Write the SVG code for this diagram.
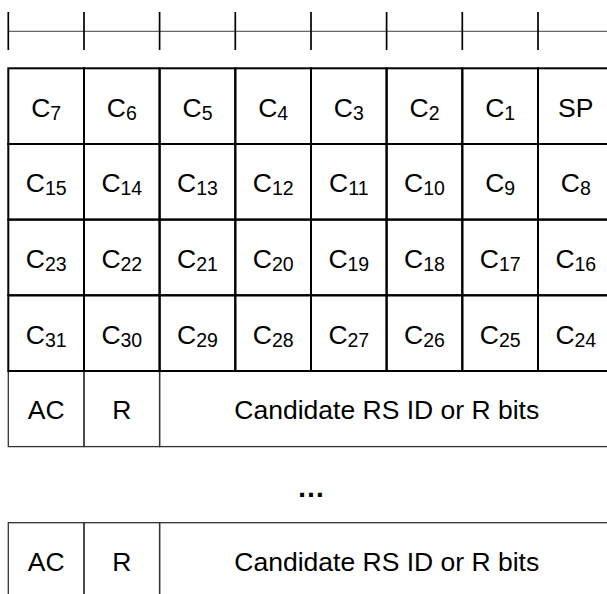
<svg xmlns="http://www.w3.org/2000/svg" width="607" height="594" viewBox="0 0 607 594">
<style>
.bg{fill:#ffffff}
.cell{fill:none;stroke:#000;stroke-width:2}
.fld{fill:none;stroke:#333;stroke-width:1.3}
.t{font-family:"Liberation Sans",Arial,sans-serif;font-size:26.5px;fill:#000;text-anchor:middle}
.sub{font-size:19.5px}
.tick{stroke:#000;stroke-width:1.7}
.axis{stroke:#666;stroke-width:1.3}
</style>
<rect class="bg" x="0" y="0" width="607" height="594"/>
<g id="ruler">
<line class="axis" x1="8.3" y1="31.3" x2="607" y2="31.3"/>
<line class="tick" x1="8.3" y1="12" x2="8.3" y2="50"/>
<line class="tick" x1="84" y1="12" x2="84" y2="50"/>
<line class="tick" x1="159.6" y1="12" x2="159.6" y2="50"/>
<line class="tick" x1="235.3" y1="12" x2="235.3" y2="50"/>
<line class="tick" x1="311" y1="12" x2="311" y2="50"/>
<line class="tick" x1="386.6" y1="12" x2="386.6" y2="50"/>
<line class="tick" x1="462.3" y1="12" x2="462.3" y2="50"/>
<line class="tick" x1="538" y1="12" x2="538" y2="50"/>
</g>
<g id="field1">
<g id="f1-ac"><rect class="fld" x="8.3" y="371" width="75.7" height="75.6"/><text class="t" x="46.2" y="419.1">AC</text></g>
<g id="f1-r"><rect class="fld" x="84" y="371" width="75.6" height="75.6"/><text class="t" x="121.8" y="419.1">R</text></g>
<g id="f1-id"><rect class="fld" x="159.6" y="371" width="454" height="75.6"/><text class="t" x="386.8" y="419.1">Candidate RS ID or R bits</text></g>
</g>
<g id="grid">
<g id="c7"><rect class="cell" x="8.3" y="68.3" width="75.7" height="75.7"/><text class="t" x="46.2" y="116.5">C<tspan class="sub" dy="3">7</tspan></text></g>
<g id="c6"><rect class="cell" x="84" y="68.3" width="75.6" height="75.7"/><text class="t" x="121.8" y="116.5">C<tspan class="sub" dy="3">6</tspan></text></g>
<g id="c5"><rect class="cell" x="159.6" y="68.3" width="75.7" height="75.7"/><text class="t" x="197.5" y="116.5">C<tspan class="sub" dy="3">5</tspan></text></g>
<g id="c4"><rect class="cell" x="235.3" y="68.3" width="75.7" height="75.7"/><text class="t" x="273.2" y="116.5">C<tspan class="sub" dy="3">4</tspan></text></g>
<g id="c3"><rect class="cell" x="311" y="68.3" width="75.6" height="75.7"/><text class="t" x="348.8" y="116.5">C<tspan class="sub" dy="3">3</tspan></text></g>
<g id="c2"><rect class="cell" x="386.6" y="68.3" width="75.7" height="75.7"/><text class="t" x="424.5" y="116.5">C<tspan class="sub" dy="3">2</tspan></text></g>
<g id="c1"><rect class="cell" x="462.3" y="68.3" width="75.7" height="75.7"/><text class="t" x="500.2" y="116.5">C<tspan class="sub" dy="3">1</tspan></text></g>
<g id="sp"><rect class="cell" x="538" y="68.3" width="75.6" height="75.7"/><text class="t" x="575.8" y="116.5">SP</text></g>

<g id="c15"><rect class="cell" x="8.3" y="144" width="75.7" height="75.6"/><text class="t" x="46.2" y="192.1">C<tspan class="sub" dy="3">15</tspan></text></g>
<g id="c14"><rect class="cell" x="84" y="144" width="75.6" height="75.6"/><text class="t" x="121.8" y="192.1">C<tspan class="sub" dy="3">14</tspan></text></g>
<g id="c13"><rect class="cell" x="159.6" y="144" width="75.7" height="75.6"/><text class="t" x="197.5" y="192.1">C<tspan class="sub" dy="3">13</tspan></text></g>
<g id="c12"><rect class="cell" x="235.3" y="144" width="75.7" height="75.6"/><text class="t" x="273.2" y="192.1">C<tspan class="sub" dy="3">12</tspan></text></g>
<g id="c11"><rect class="cell" x="311" y="144" width="75.6" height="75.6"/><text class="t" x="348.8" y="192.1">C<tspan class="sub" dy="3">11</tspan></text></g>
<g id="c10"><rect class="cell" x="386.6" y="144" width="75.7" height="75.6"/><text class="t" x="424.5" y="192.1">C<tspan class="sub" dy="3">10</tspan></text></g>
<g id="c9"><rect class="cell" x="462.3" y="144" width="75.7" height="75.6"/><text class="t" x="500.2" y="192.1">C<tspan class="sub" dy="3">9</tspan></text></g>
<g id="c8"><rect class="cell" x="538" y="144" width="75.6" height="75.6"/><text class="t" x="575.8" y="192.1">C<tspan class="sub" dy="3">8</tspan></text></g>

<g id="c23"><rect class="cell" x="8.3" y="219.6" width="75.7" height="75.7"/><text class="t" x="46.2" y="267.8">C<tspan class="sub" dy="3">23</tspan></text></g>
<g id="c22"><rect class="cell" x="84" y="219.6" width="75.6" height="75.7"/><text class="t" x="121.8" y="267.8">C<tspan class="sub" dy="3">22</tspan></text></g>
<g id="c21"><rect class="cell" x="159.6" y="219.6" width="75.7" height="75.7"/><text class="t" x="197.5" y="267.8">C<tspan class="sub" dy="3">21</tspan></text></g>
<g id="c20"><rect class="cell" x="235.3" y="219.6" width="75.7" height="75.7"/><text class="t" x="273.2" y="267.8">C<tspan class="sub" dy="3">20</tspan></text></g>
<g id="c19"><rect class="cell" x="311" y="219.6" width="75.6" height="75.7"/><text class="t" x="348.8" y="267.8">C<tspan class="sub" dy="3">19</tspan></text></g>
<g id="c18"><rect class="cell" x="386.6" y="219.6" width="75.7" height="75.7"/><text class="t" x="424.5" y="267.8">C<tspan class="sub" dy="3">18</tspan></text></g>
<g id="c17"><rect class="cell" x="462.3" y="219.6" width="75.7" height="75.7"/><text class="t" x="500.2" y="267.8">C<tspan class="sub" dy="3">17</tspan></text></g>
<g id="c16"><rect class="cell" x="538" y="219.6" width="75.6" height="75.7"/><text class="t" x="575.8" y="267.8">C<tspan class="sub" dy="3">16</tspan></text></g>

<g id="c31"><rect class="cell" x="8.3" y="295.3" width="75.7" height="75.7"/><text class="t" x="46.2" y="343.5">C<tspan class="sub" dy="3">31</tspan></text></g>
<g id="c30"><rect class="cell" x="84" y="295.3" width="75.6" height="75.7"/><text class="t" x="121.8" y="343.5">C<tspan class="sub" dy="3">30</tspan></text></g>
<g id="c29"><rect class="cell" x="159.6" y="295.3" width="75.7" height="75.7"/><text class="t" x="197.5" y="343.5">C<tspan class="sub" dy="3">29</tspan></text></g>
<g id="c28"><rect class="cell" x="235.3" y="295.3" width="75.7" height="75.7"/><text class="t" x="273.2" y="343.5">C<tspan class="sub" dy="3">28</tspan></text></g>
<g id="c27"><rect class="cell" x="311" y="295.3" width="75.6" height="75.7"/><text class="t" x="348.8" y="343.5">C<tspan class="sub" dy="3">27</tspan></text></g>
<g id="c26"><rect class="cell" x="386.6" y="295.3" width="75.7" height="75.7"/><text class="t" x="424.5" y="343.5">C<tspan class="sub" dy="3">26</tspan></text></g>
<g id="c25"><rect class="cell" x="462.3" y="295.3" width="75.7" height="75.7"/><text class="t" x="500.2" y="343.5">C<tspan class="sub" dy="3">25</tspan></text></g>
<g id="c24"><rect class="cell" x="538" y="295.3" width="75.6" height="75.7"/><text class="t" x="575.8" y="343.5">C<tspan class="sub" dy="3">24</tspan></text></g>
</g>
<g id="ellipsis"><text class="t" x="311.1" y="497" style="font-size:28px;font-weight:bold">…</text></g>
<g id="fieldN">
<g id="fN-ac"><rect class="fld" x="8.3" y="522.7" width="75.7" height="75.7"/><text class="t" x="46.2" y="570.8">AC</text></g>
<g id="fN-r"><rect class="fld" x="84" y="522.7" width="75.6" height="75.7"/><text class="t" x="121.8" y="570.8">R</text></g>
<g id="fN-id"><rect class="fld" x="159.6" y="522.7" width="454" height="75.7"/><text class="t" x="386.8" y="570.8">Candidate RS ID or R bits</text></g>
</g>
</svg>
